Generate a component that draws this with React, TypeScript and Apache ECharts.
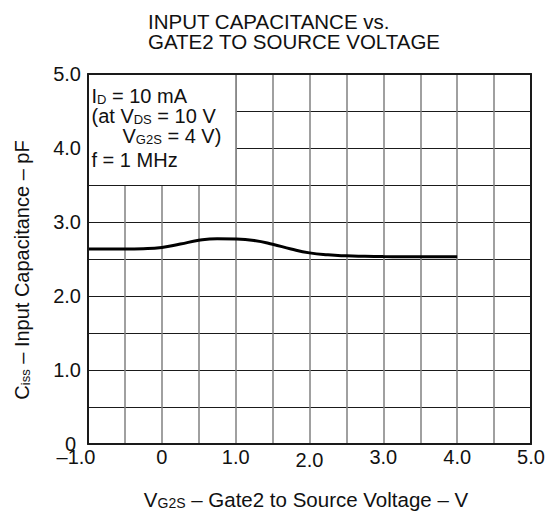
import React, { useEffect, useRef } from 'react';
import * as echarts from 'echarts';

// ---- data ----
const vg2sValues = [-1, -0.75, -0.5, -0.25, 0, 0.25, 0.5, 0.75, 1.0, 1.25, 1.5, 1.75, 2.0, 2.25, 2.5, 2.75, 3.0, 3.25, 3.5, 3.75, 4.0];
const cissValues = [2.635, 2.635, 2.635, 2.639, 2.656, 2.702, 2.752, 2.773, 2.77, 2.75, 2.7, 2.635, 2.583, 2.556, 2.543, 2.537, 2.533, 2.531, 2.53, 2.53, 2.53];
const xTickLabels = ['–1.0', '0', '1.0', '2.0', '3.0', '4.0', '5.0'];
const yTickLabels = ['0', '1.0', '2.0', '3.0', '4.0', '5.0'];
const titleLines = ['INPUT CAPACITANCE vs.', 'GATE2 TO SOURCE VOLTAGE'];
const xRange = [-1, 5];
const yRange = [0, 5];
const noteBoxX = [-1, 1];
const noteBoxY = [3.5, 5];

const FONT = "'Liberation Sans', Arial, Helvetica, sans-serif";
const INK = '#111';

export default function App() {
  const ref = useRef<HTMLDivElement>(null);
  useEffect(() => {
    const chart = echarts.init(ref.current!, null, { renderer: 'svg' });

    const richG = {
      m: { fontSize: 20, lineHeight: 20, verticalAlign: 'bottom', fontFamily: FONT, fill: INK },
      s: { fontSize: 13, lineHeight: 15, verticalAlign: 'bottom', fontFamily: FONT, fill: INK },
      p: { fontSize: 20, lineHeight: 20, verticalAlign: 'bottom', fontFamily: FONT, fill: INK, padding: [0, 0, 0, 31] },
      t: { fontSize: 20.5, lineHeight: 20, verticalAlign: 'bottom', fontFamily: FONT, fill: INK },
      u: { fontSize: 14, lineHeight: 15, verticalAlign: 'bottom', fontFamily: FONT, fill: INK },
    };
    const txt = (x: number, y: number, text: string, extra: any = {}) => ({
      type: 'text',
      x,
      y,
      z: 100,
      silent: true,
      ...extra,
      style: {
        text,
        fontFamily: FONT,
        fontSize: 20,
        fill: INK,
        align: 'left',
        verticalAlign: 'middle',
        rich: richG,
        ...(extra.style || {}),
      },
    });

    const frameLine = { show: true, onZero: false, lineStyle: { color: '#1a1a1a', width: 2 } };
    const lbl = { fontSize: 20, lineHeight: 16, fontFamily: FONT, color: INK };
    const labelRich = {
      n: { ...lbl },
      neg: { ...lbl, padding: [0, 24, 0, 0] },
      low: { ...lbl, padding: [5, 0, 0, 0] },
      zero: { ...lbl, padding: [0, 5, 0, 0] },
    };

    const option: any = {
      animation: false,
      grid: { left: 88, right: 23, top: 74, bottom: 68, containLabel: false },
      xAxis: [
        {
          type: 'value',
          min: xRange[0],
          max: xRange[1],
          interval: 0.5,
          position: 'bottom',
          axisLine: frameLine,
          axisTick: { show: false },
          splitLine: { show: true, showMinLine: false, showMaxLine: false, lineStyle: { color: '#808080', width: 1.5 } },
          axisLabel: {
            margin: 5,
            showMinLabel: true,
            showMaxLabel: true,
            fontSize: 20,
            fontFamily: FONT,
            color: INK,
            formatter: (v: number) => {
              if (!Number.isInteger(v)) return '';
              const s = xTickLabels[v - xRange[0]];
              if (v === xRange[0]) return `{neg|${s}}`;
              if (v === 2) return `{low|${s}}`;
              return `{n|${s}}`;
            },
            rich: labelRich,
          },
        },
        {
          type: 'value',
          min: xRange[0],
          max: xRange[1],
          position: 'top',
          z: 10,
          axisLine: frameLine,
          axisTick: { show: false },
          axisLabel: { show: false },
          splitLine: { show: false },
        },
      ],
      yAxis: [
        {
          type: 'value',
          min: yRange[0],
          max: yRange[1],
          interval: 0.5,
          position: 'left',
          axisLine: { show: false, onZero: false },
          axisTick: { show: false },
          splitLine: { show: true, showMinLine: false, showMaxLine: false, lineStyle: { color: '#1a1a1a', width: 1 } },
          axisLabel: {
            margin: 7,
            showMinLabel: true,
            showMaxLabel: true,
            fontSize: 20,
            fontFamily: FONT,
            color: INK,
            formatter: (v: number) => {
              if (!Number.isInteger(v)) return '';
              const s = yTickLabels[v - yRange[0]];
              if (v === 0) return `{zero|${s}}`;
              return `{n|${s}}`;
            },
            rich: labelRich,
          },
        },
        {
          type: 'value',
          min: yRange[0],
          max: yRange[1],
          position: 'left',
          z: 10,
          axisLine: frameLine,
          axisTick: { show: false },
          axisLabel: { show: false },
          splitLine: { show: false },
        },
        {
          type: 'value',
          min: yRange[0],
          max: yRange[1],
          position: 'right',
          z: 10,
          axisLine: frameLine,
          axisTick: { show: false },
          axisLabel: { show: false },
          splitLine: { show: false },
        },
      ],
      series: [
        {
          type: 'line',
          xAxisIndex: 0,
          yAxisIndex: 0,
          data: vg2sValues.map((x, i) => [x, cissValues[i]]),
          smooth: 0.5,
          showSymbol: false,
          symbol: 'none',
          lineStyle: { color: '#000', width: 3 },
          z: 3,
          markArea: {
            silent: true,
            itemStyle: { color: '#fff', borderWidth: 0 },
            data: [[{ coord: [noteBoxX[0], noteBoxY[1]] }, { coord: [noteBoxX[1], noteBoxY[0]] }]],
          },
          markLine: {
            silent: true,
            symbol: 'none',
            label: { show: false },
            data: [
              [
                { coord: [noteBoxX[1], noteBoxY[0]], lineStyle: { color: '#808080', width: 1.5, type: 'solid' } },
                { coord: [noteBoxX[1], noteBoxY[1]] },
              ],
              [
                { coord: [noteBoxX[0], noteBoxY[0]], lineStyle: { color: '#1a1a1a', width: 1, type: 'solid' } },
                { coord: [noteBoxX[1], noteBoxY[0]] },
              ],
            ],
          },
        },
      ],
      graphic: [
        txt(148, 12.2, `{t|${titleLines[0]}}\n{t|${titleLines[1]}}`, { style: { verticalAlign: 'top' } }),
        txt(91.5, 86.3, '{m|I}{s|D}{m| = 10 mA}\n{m|(at V}{s|DS}{m| = 10 V}\n{p|V}{s|G2S}{m| = 4 V)}', {
          style: { verticalAlign: 'top' },
        }),
        txt(91.5, 159.7, '{m|f = 1 MHz}'),
        txt(22.3, 270, '{m|C}{s|iss}{m| – Input Capacitance – pF}', {
          rotation: Math.PI / 2,
          style: { align: 'center' },
        }),
        txt(306, 500.3, '{t|V}{u|G2S}{t| – Gate2 to Source Voltage – V}', { style: { align: 'center' } }),
      ],
    };

    chart.setOption(option);
    return () => chart.dispose();
  }, []);

  return (
    <div
      ref={ref}
      style={{ position: 'fixed', left: 0, top: 0, width: 554, height: 512, background: '#fff' }}
    />
  );
}
